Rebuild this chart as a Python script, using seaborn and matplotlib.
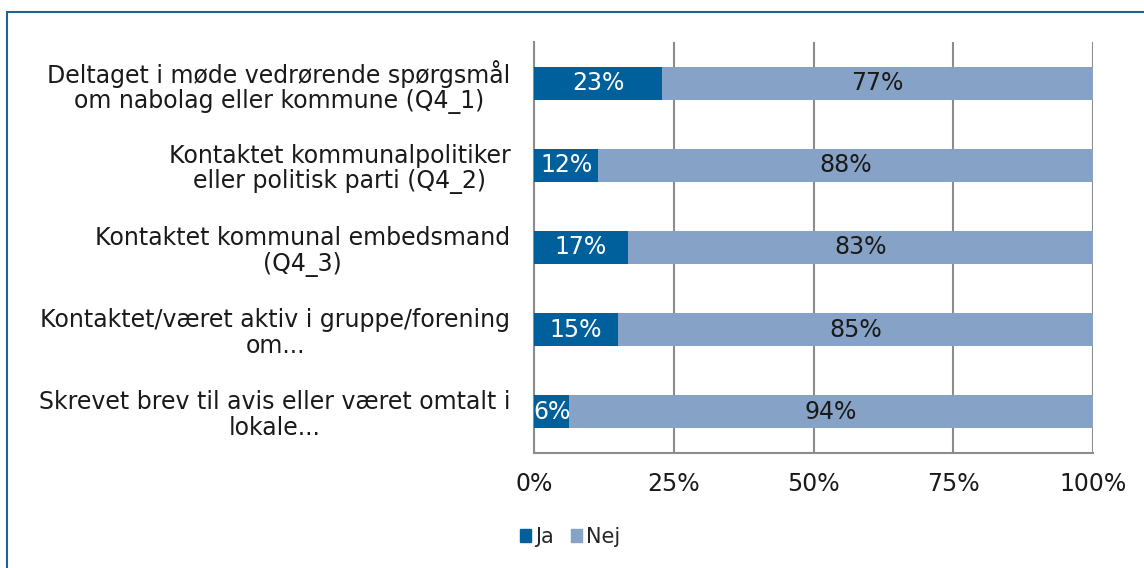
import matplotlib
matplotlib.use("Agg")
import matplotlib.pyplot as plt
import seaborn as sns
import pandas as pd
from matplotlib.patches import Rectangle

kategorier = [
    "Deltaget i møde vedrørende spørgsmål\nom nabolag eller kommune (Q4_1)",
    "Kontaktet kommunalpolitiker\neller politisk parti (Q4_2)",
    "Kontaktet kommunal embedsmand\n(Q4_3)",
    "Kontaktet/været aktiv i gruppe/forening\nom...",
    "Skrevet brev til avis eller været omtalt i\nlokale...",
]
ja = [22.9, 11.5, 16.8, 15.0, 6.3]
nej = [77.1, 88.5, 83.2, 85.0, 93.7]
xtick_labels = ["0%", "25%", "50%", "75%", "100%"]

farve_ja = "#00609C"
farve_nej = "#87A2C7"
graa = "#8C8C8C"
fs = 17

df = pd.DataFrame({"kategori": kategorier, "Ja": ja, "Nej": nej})
df["total"] = df["Ja"] + df["Nej"]

sns.set_style("white")
plt.rcParams["font.family"] = ["DejaVu Sans"]

fig = plt.figure(figsize=(11.44, 5.68), dpi=100)
ax = fig.add_axes([534 / 1144, 1 - 453 / 568, 559 / 1144, 411 / 568])

# stablet: total i Nej-farve, Ja ovenpå
sns.barplot(data=df, y="kategori", x="total", color=farve_nej, width=0.4,
            saturation=1, orient="h", ax=ax, linewidth=0, zorder=3)
sns.barplot(data=df, y="kategori", x="Ja", color=farve_ja, width=0.4,
            saturation=1, orient="h", ax=ax, linewidth=0, zorder=4)

for i, (j, n) in enumerate(zip(ja, nej)):
    ax.text(j / 2, i, f"{j:.0f}%", ha="center", va="center", color="white",
            fontsize=fs, zorder=5)
    ax.text(j + n / 2, i, f"{n:.0f}%", ha="center", va="center",
            color="#1a1a1a", fontsize=fs, zorder=5)

ax.set_xlim(0, 100)
ax.set_ylim(4.5, -0.5)
ax.set_xticks([0, 25, 50, 75, 100])
ax.set_xticklabels(xtick_labels, fontsize=fs)
ax.set_yticks(range(len(kategorier)))
ax.set_yticklabels(kategorier, fontsize=fs, multialignment="center", linespacing=1.08)
ax.set_xlabel("")
ax.set_ylabel("")
ax.xaxis.grid(True, color=graa, linewidth=1.5, zorder=0)
ax.set_axisbelow(True)
for s in ["top", "right"]:
    ax.spines[s].set_visible(False)
for s in ["left", "bottom"]:
    ax.spines[s].set_color(graa)
    ax.spines[s].set_linewidth(1.5)
ax.tick_params(axis="x", direction="out", length=7, width=1.5, color=graa,
               pad=7, labelcolor="#1a1a1a")
ax.tick_params(axis="y", length=0, pad=17, labelcolor="#1a1a1a")

handles = [Rectangle((0, 0), 1, 1, color=farve_ja),
           Rectangle((0, 0), 1, 1, color=farve_nej)]
fig.legend(handles, ["Ja", "Nej"], loc="center", bbox_to_anchor=(570 / 1144, 1 - 537 / 568),
           ncol=2, frameon=False, fontsize=15, handlelength=0.55, handleheight=0.55,
           handletextpad=0.2, columnspacing=0.8)

fig.patches.append(Rectangle((7 / 1144, -0.1), 1.2, 1 - 12 / 568 + 0.1,
                             transform=fig.transFigure, fill=False,
                             edgecolor="#1F6391", linewidth=1.5))

fig.savefig("out.png", dpi=100)
